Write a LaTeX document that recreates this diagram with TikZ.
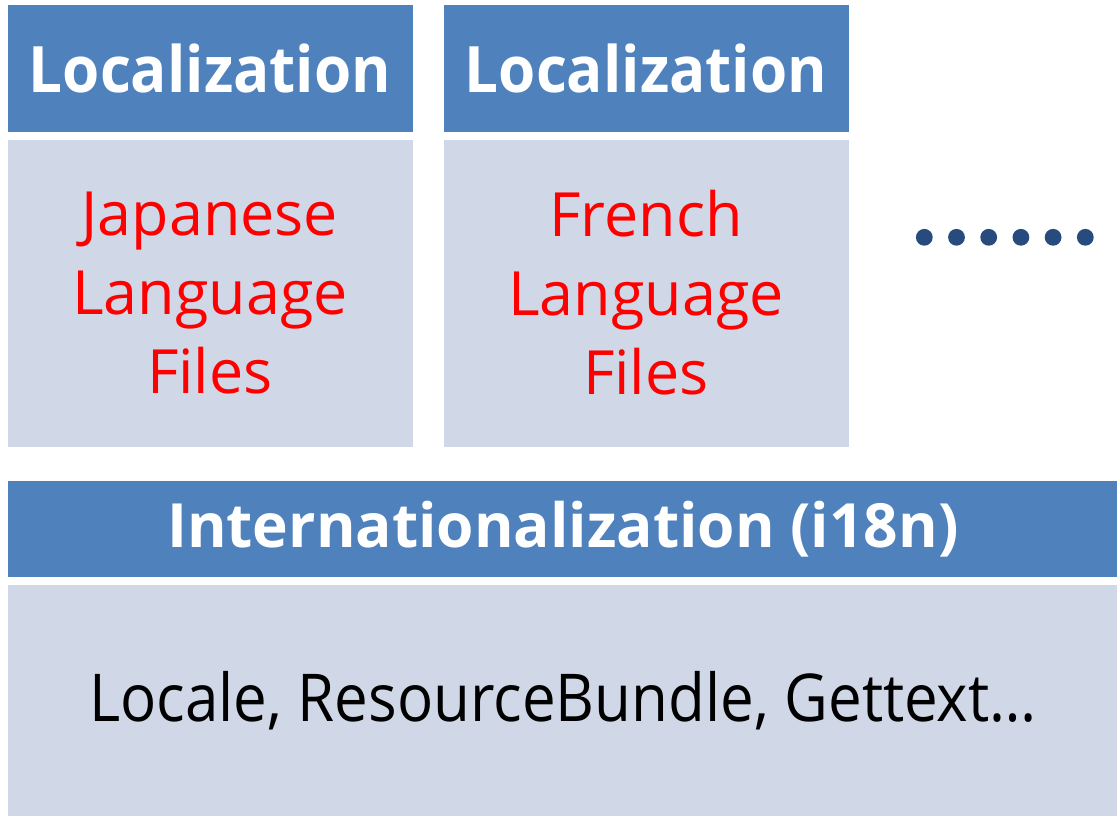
\documentclass[tikz,border=0pt]{standalone}
\usepackage{fontspec}
\setmainfont{Open Sans}
\definecolor{hdrblue}{HTML}{4F81BD}
\definecolor{lightbox}{HTML}{D0D8E8}
\definecolor{dotblue}{HTML}{284B7E}
\definecolor{txtred}{HTML}{FF0000}
\tikzset{
  hdr/.style={fill=hdrblue, draw=white, line width=0.8pt, anchor=north west, inner sep=0pt, text=white,
    font=\fontsize{64}{70}\selectfont\bfseries},
  body/.style={fill=lightbox, draw=white, line width=0.8pt, anchor=north west, inner sep=0pt, align=center},
  redtext/.style={text=txtred, font=\fontsize{61}{79}\selectfont},
  dotstyle/.style={fill=dotblue}
}
\begin{document}
\begin{tikzpicture}[x=1pt,y=-1pt]
\useasboundingbox (0,0) rectangle (1117,816);
% Left column
\node[hdr, minimum width=406pt, minimum height=127pt] (loc1) at (6.5,4.5) {\scalebox{0.94}[1]{Localization}};
\node[body, redtext, minimum width=406pt, minimum height=308pt] (jp) at (6.5,138.5) {Japanese\\Language\\Files};
% Middle column
\node[hdr, minimum width=406pt, minimum height=127pt] (loc2) at (442.5,4.5) {\scalebox{0.94}[1]{Localization}};
\node[body, redtext, minimum width=406pt, minimum height=308pt] (fr) at (442.5,138.5) {French\\Language\\Files};
% Dots
\foreach \i in {0,...,5} {
  \fill[dotstyle] (924.3+32.2*\i,237.3) circle (8.4pt);
}
% Bottom
\node[hdr, minimum width=1112pt, minimum height=96.5pt, font=\fontsize{61}{70}\selectfont\bfseries] (i18n) at (6.5,480) {\scalebox{0.99}[1]{Internationalization (i18n)}};
\node[body, minimum width=1112pt, minimum height=233pt, font=\fontsize{66}{70}\selectfont] (base) at (6.5,584) {\scalebox{0.91}[1]{Locale, ResourceBundle, Gettext\dots}};
\end{tikzpicture}
\end{document}
